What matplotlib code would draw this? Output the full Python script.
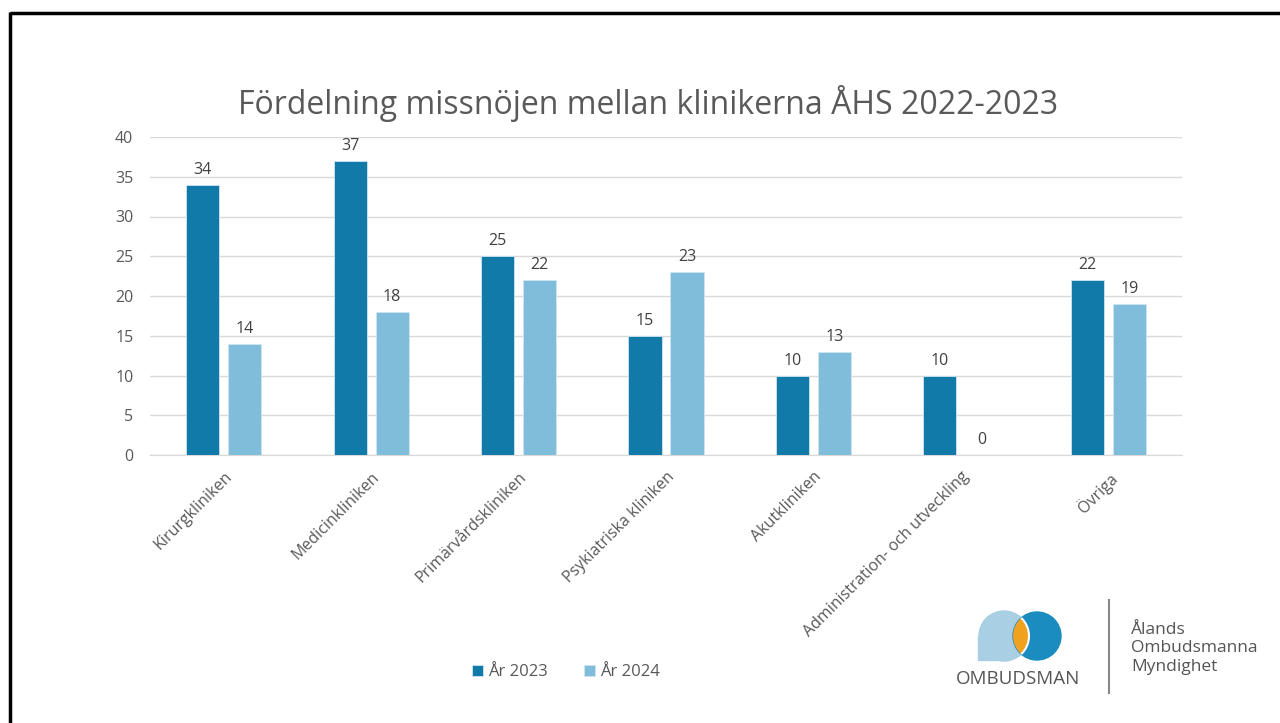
import numpy as np
import matplotlib.pyplot as plt
from matplotlib.patches import Circle, Rectangle

# data
kliniker = ['Kirurgkliniken', 'Medicinkliniken', 'Primärvårdskliniken', 'Psykiatriska kliniken',
            'Akutkliniken', 'Administration- och utveckling', 'Övriga']
ar_2023 = [34, 37, 25, 15, 10, 10, 22]
ar_2024 = [14, 18, 22, 23, 13, 0, 19]
serier = ['År 2023', 'År 2024']

mork = '#117AA8'
ljus = '#7FBDDA'
text_farg = '#595959'

plt.rcParams['font.family'] = ['Open Sans', 'DejaVu Sans']

fig = plt.figure(figsize=(12.8, 7.23), dpi=100)
ax = fig.add_axes([150/1280, 1-455/723, (1182-150)/1280, (455-137)/723])

x = np.arange(len(kliniker))
b = 0.224
gap = 0.061
bars1 = ax.bar(x - (b+gap)/2, ar_2023, b, color=mork, edgecolor='#cfe6f2', linewidth=0.6, label=serier[0], zorder=3)
bars2 = ax.bar(x + (b+gap)/2, ar_2024, b, color=ljus, edgecolor='#cfe6f2', linewidth=0.6, label=serier[1], zorder=3)

for bars in (bars1, bars2):
    for r in bars:
        h = r.get_height()
        ax.annotate(f'{h:g}', (r.get_x() + r.get_width()/2, h), xytext=(0, 5), textcoords='offset points',
                    ha='center', va='bottom', fontsize=11.5, color='#404040')

ax.set_xlim(-0.5, len(kliniker) - 0.5)
ax.set_ylim(0, 40)
ax.set_yticks(range(0, 41, 5))
ax.yaxis.grid(True, color='#d9d9d9', linewidth=1, zorder=0)
ax.set_axisbelow(True)
for s in ['top', 'right', 'left']:
    ax.spines[s].set_visible(False)
ax.spines['bottom'].set_color('#d9d9d9')
ax.tick_params(axis='both', length=0, labelsize=11.5, labelcolor=text_farg)
ax.tick_params(axis='y', pad=12)
ax.set_xticks(x)
ax.set_xticklabels(kliniker, rotation=45, ha='right', rotation_mode='anchor')
ax.tick_params(axis='x', pad=10)

fig.text(648/1280, 1-103/723, 'Fördelning missnöjen mellan klinikerna ÅHS 2022-2023',
         ha='center', va='center', fontsize=23, color=text_farg)

fig.legend(handles=[bars1, bars2], labels=serier, loc='center', bbox_to_anchor=(566/1280, 1-672/723),
           ncol=2, frameon=False, fontsize=12, labelcolor=text_farg, handlelength=0.65, handleheight=0.65,
           handletextpad=0.3, columnspacing=2.2)

# ram och logga i pixelkoordinater
ov = fig.add_axes([0, 0, 1, 1], zorder=5)
ov.set_xlim(0, 1280)
ov.set_ylim(723, 0)
ov.axis('off')
ov.plot([9.5, 1280], [13, 13], color='black', lw=2.5, solid_capstyle='butt')
ov.plot([9.5, 9.5], [12, 723], color='black', lw=2.5, solid_capstyle='butt')

vanster = Circle((1004, 636), 25, color='#A9CFE5', zorder=1)
ov.add_patch(vanster)
ov.add_patch(Rectangle((978, 636), 30, 24, color='#A9CFE5', zorder=1))
hoger = Circle((1037, 636), 24, color='#1A8CC0', zorder=2)
ov.add_patch(hoger)
lins = Circle((1004, 636), 25, facecolor='#F0A21E', edgecolor='white', lw=1.5, zorder=3)
ov.add_patch(lins)
lins.set_clip_path(hoger)
ov.text(1018, 679, 'OMBUDSMAN', ha='center', va='center', fontsize=13.5, color='#555555')
ov.plot([1109, 1109], [600, 693], color='#888888', lw=1.5)
for i, t in enumerate(['Ålands', 'Ombudsmanna', 'Myndighet']):
    ov.text(1131, 630 + i*18.5, t, ha='left', va='center', fontsize=12.5, color='#555555')

fig.savefig('out.png', dpi=100)
